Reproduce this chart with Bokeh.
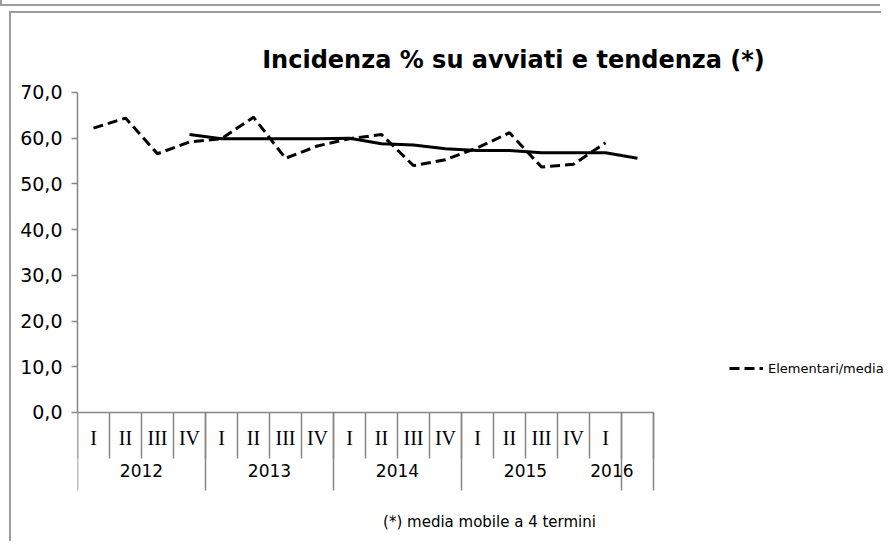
from bokeh.plotting import figure
from bokeh.models import (Range1d, FixedTicker, CustomJSTickFormatter, Label,
                          Legend, LegendItem, ColumnDataSource, LinearAxis, Div)
from bokeh.layouts import column
from bokeh.embed import file_html
from bokeh.resources import INLINE
from bokeh.core.properties import value

# ---------------- data ----------------
quarters = ["I", "II", "III", "IV", "I", "II", "III", "IV", "I", "II", "III", "IV",
            "I", "II", "III", "IV", "I", ""]
years = ["2012", "2013", "2014", "2015", "2016"]
year_label_pos = [2.0, 6.0, 10.0, 14.0, 16.7]
year_bounds = [0, 4, 8, 12, 17, 18]
elementari = [62.2, 64.4, 56.6, 59.2, 59.9, 64.6, 55.6, 58.3, 59.9, 60.8, 54.0,
              55.3, 57.9, 61.2, 53.7, 54.3, 59.0]
tendenza_start = 3
tendenza = [60.8, 59.9, 59.9, 59.9, 59.9, 60.0, 58.8, 58.5, 57.7, 57.3, 57.3,
            56.8, 56.8, 56.8, 55.6]
y_ticks = [0, 10, 20, 30, 40, 50, 60, 70]

title_text = "Incidenza % su avviati e tendenza (*)"
note_text = "(*) media mobile a 4 termini"
legend_label = "Elementari/media"

# ---------------- figure ----------------
AXIS_GRAY = "#868686"
FRAME_GRAY = "#9d9d9d"
FONT = "DejaVu Sans"

p = figure(width=872, height=530,
           x_range=Range1d(0, 25.1875), y_range=Range1d(-28.66, 87.28),
           x_axis_type=None, y_axis_type=None,
           output_backend="svg", toolbar_location=None,
           min_border_left=66, min_border_right=0,
           min_border_top=0, min_border_bottom=0)
p.outline_line_color = None
p.background_fill_color = "white"
p.border_fill_color = "white"
p.margin = (5, 0, 0, 9)
p.styles = {"border-left": "2px solid " + FRAME_GRAY, "border-top": "2px solid " + FRAME_GRAY}

yaxis = LinearAxis(bounds=(0, 70), ticker=FixedTicker(ticks=y_ticks),
                   formatter=CustomJSTickFormatter(code="return tick.toFixed(1).replace('.', ',');"),
                   axis_line_color=AXIS_GRAY, axis_line_width=1.5,
                   major_tick_line_color=AXIS_GRAY, major_tick_line_width=1.5,
                   major_tick_out=6, major_tick_in=0,
                   minor_tick_line_color=None,
                   major_label_text_font=FONT, major_label_text_font_size="19px",
                   major_label_text_color="black", major_label_standoff=9)
p.add_layout(yaxis, "left")

# category axis (two levels) drawn through the data scales
n_slots = len(quarters)
bounds = list(range(n_slots + 1))
p.segment(x0=[0], y0=[0], x1=[n_slots], y1=[0], line_color=AXIS_GRAY, line_width=1.5)
p.segment(x0=bounds, y0=[0] * len(bounds), x1=bounds, y1=[-10.06] * len(bounds),
          line_color=AXIS_GRAY, line_width=1.5)
p.segment(x0=year_bounds, y0=[0] * len(year_bounds), x1=year_bounds,
          y1=[-17.06] * len(year_bounds), line_color=AXIS_GRAY, line_width=1.5)

qsrc = ColumnDataSource(dict(x=[i + 0.5 for i in range(n_slots)],
                             y=[-5.69] * n_slots, t=quarters))
p.text(x="x", y="y", text="t", source=qsrc, text_align="center",
       text_baseline="middle", text_font=value("Liberation Serif"),
       text_font_size="20px", text_color="black")

ysrc = ColumnDataSource(dict(x=year_label_pos, y=[-12.69] * len(years), t=years))
p.text(x="x", y="y", text="t", source=ysrc, text_align="center",
       text_baseline="middle", text_font=value(FONT),
       text_font_size="17px", text_color="black")

# series
esrc = ColumnDataSource(dict(x=[i + 0.5 for i in range(len(elementari))], y=elementari))
r_el = p.line(x="x", y="y", source=esrc, line_color="black", line_width=3,
              line_dash="10 5")
tsrc = ColumnDataSource(dict(x=[i + 0.5 + tendenza_start for i in range(len(tendenza))],
                             y=tendenza))
p.line(x="x", y="y", source=tsrc, line_color="black", line_width=3)

# title and note
p.add_layout(Label(x=13.625, y=77.0, text=title_text, text_align="center",
                   text_baseline="middle", text_font=FONT, text_font_style="bold",
                   text_font_size="24px", text_color="black"))
p.add_layout(Label(x=12.875, y=-24.06, text=note_text, text_align="center",
                   text_baseline="middle", text_font=FONT,
                   text_font_size="15px", text_color="black"))

legend = Legend(items=[LegendItem(label=legend_label, renderers=[r_el])],
                location=(652, 165), border_line_color=None,
                background_fill_alpha=0, padding=0, margin=0,
                glyph_width=34, glyph_height=20, label_height=20,
                label_standoff=5, label_text_font=FONT,
                label_text_font_size="13px", label_text_color="black")
p.add_layout(legend)

# bottom edge of the frame of the chart above
strip = Div(text="", width=880, height=6, margin=(0, 0, 0, 0),
            styles={"box-sizing": "border-box", "height": "6px",
                    "min-height": "0px", "overflow": "hidden",
                    "border-left": "2px solid " + FRAME_GRAY,
                    "border-bottom": "2px solid " + FRAME_GRAY})

layout = column(strip, p, spacing=0)
open("out.html", "w").write(file_html(layout, INLINE))
